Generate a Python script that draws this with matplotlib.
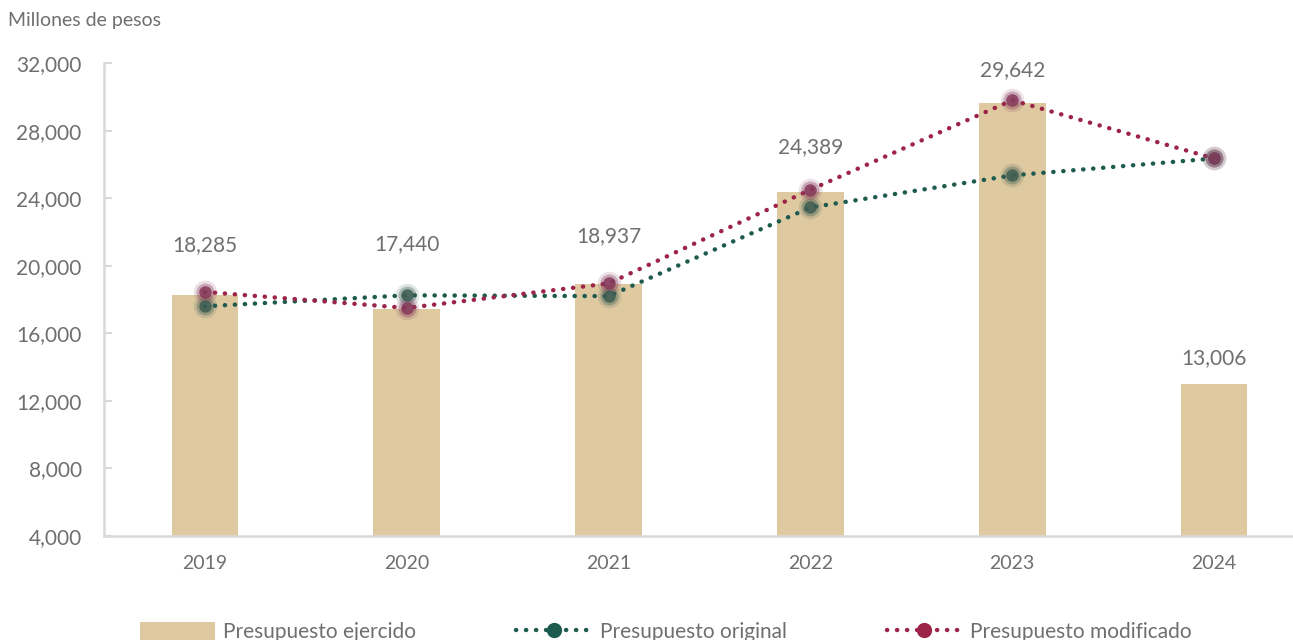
import matplotlib.pyplot as plt
from matplotlib.lines import Line2D
from matplotlib.patches import Patch

years = ["2019", "2020", "2021", "2022", "2023", "2024"]
ejercido = [18285, 17440, 18937, 24389, 29642, 13006]
original = [17600, 18250, 18200, 23450, 25350, 26350]
modificado = [18450, 17500, 18950, 24500, 29800, 26350]
# where the value labels sit (data units)
label_y = [21200, 21300, 21750, 27050, 31600, 14550]

yticks = [4000, 8000, 12000, 16000, 20000, 24000, 28000, 32000]

BAR = "#dec9a0"
GREEN = "#1e5b4f"
RED = "#9d2449"
TXT = "#6f6f6f"
AXC = "#d9d9d9"

plt.rcParams["font.family"] = ["Lato", "DejaVu Sans"]

fig = plt.figure(figsize=(12.93, 6.4), dpi=100)
ax = fig.add_axes([0.0804, 0.1625, 0.9366, 0.739])

x = list(range(len(years)))
ax.bar(x, [v - 4000 for v in ejercido], bottom=4000, width=0.33, color=BAR, zorder=1)

for vals, c, mc in [(original, GREEN, "#3d5d52"), (modificado, RED, "#85385a")]:
    ax.plot(x, vals, color=c, lw=3.2, linestyle=(0, (0.05, 2.2)),
            dash_capstyle="round", zorder=2)
    ax.plot(x, vals, "o", color=mc, ms=17, alpha=0.15, mec="none", zorder=3)
    ax.plot(x, vals, "o", color=mc, ms=13, alpha=0.35, mec="none", zorder=3)
    ax.plot(x, vals, "o", color=mc, ms=9, alpha=0.85, mec="none", zorder=4)

for i, v in enumerate(ejercido):
    ax.text(i, label_y[i], f"{v:,}", ha="center", va="center", fontsize=15, color=TXT)

ax.set_xlim(-0.5, 5.5)
ax.set_ylim(4000, 32000)
ax.set_yticks(yticks)
ax.set_yticklabels([f"{t:,}" for t in yticks], fontsize=15, color=TXT)
ax.set_xticks(x)
ax.set_xticklabels(years, fontsize=14, color=TXT)
ax.tick_params(axis="y", direction="in", length=6, width=1.5, color=AXC, pad=16)
ax.tick_params(axis="x", length=0, pad=14)

for s in ["top", "right"]:
    ax.spines[s].set_visible(False)
for s in ["left", "bottom"]:
    ax.spines[s].set_color(AXC)
    ax.spines[s].set_linewidth(1.8)
ax.spines["bottom"].set_clip_on(False)

fig.text(0.006, 0.968, "Millones de pesos", fontsize=14, color=TXT, va="center")

handles = [
    Patch(facecolor=BAR, edgecolor="none"),
    Line2D([], [], color=GREEN, lw=3.2, linestyle=(0, (0.05, 2.2)), dash_capstyle="round",
           marker="o", ms=11, mec="none"),
    Line2D([], [], color=RED, lw=3.2, linestyle=(0, (0.05, 2.2)), dash_capstyle="round",
           marker="o", ms=11, mec="none"),
]
labels = ["Presupuesto ejercido", "Presupuesto original", "Presupuesto modificado"]
fig.legend(handles, labels, loc="center", bbox_to_anchor=(0.515, 0.012), ncol=3,
           frameon=False, fontsize=15, labelcolor=TXT, handlelength=3.6,
           handleheight=0.9, columnspacing=4.8, handletextpad=0.4)

fig.savefig("out.png", dpi=100)
